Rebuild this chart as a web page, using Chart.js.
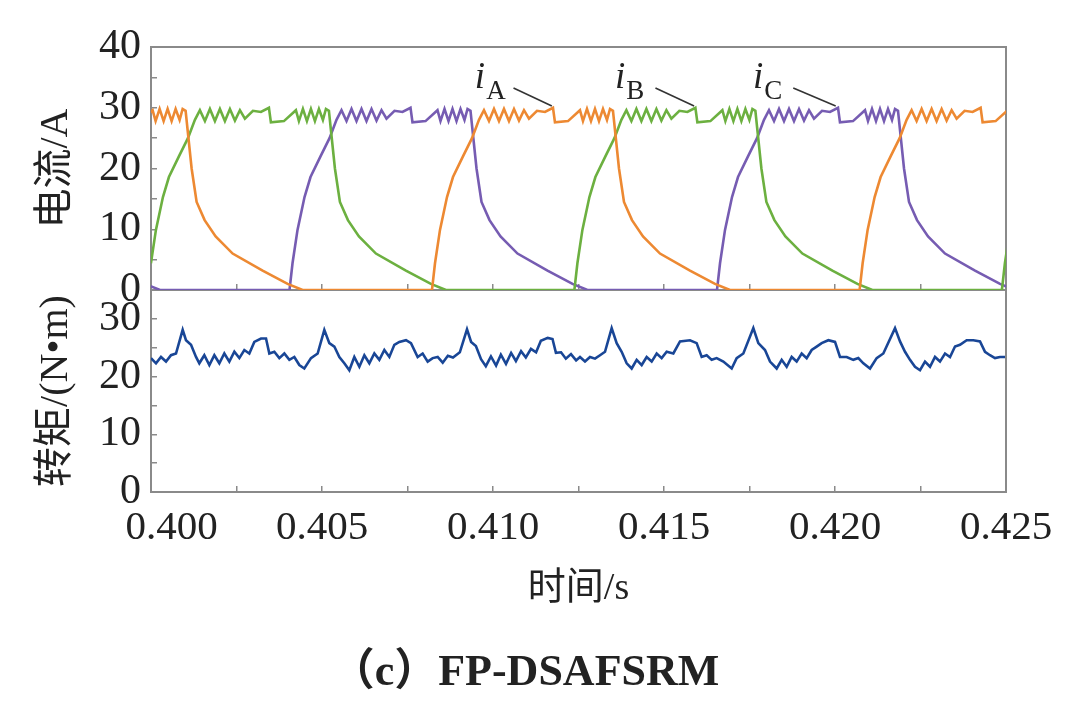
<!DOCTYPE html>
<html><head><meta charset="utf-8">
<script src="https://cdn.jsdelivr.net/npm/chart.js@4.4.1/dist/chart.umd.min.js"></script>
<style>
html,body{margin:0;padding:0;background:#fff;width:1075px;height:702px;overflow:hidden;}
#c1,#c2{position:absolute;left:0;top:0;}
#c1{z-index:2}
#c2{z-index:1}
#cap{position:absolute;left:0;width:1050px;top:634px;text-align:center;font:bold 44px "Liberation Serif","Noto Sans CJK SC";color:#222;z-index:3;white-space:nowrap}
</style></head><body>
<canvas id="c1" width="1075" height="360"></canvas>
<canvas id="c2" width="1075" height="702"></canvas>
<div id="cap">（c）FP-DSAFSRM</div>
<script>
// time values: milliseconds after 0.400 s
const xTickLabels = ['0.400','0.405','0.410','0.415','0.420','0.425'];
const currentTickLabels = [0,10,20,30,40];
const torqueTickLabels = [0,10,20,30];

// phase A current (orange)
const tA = [-0.303,0.047,0.135,0.252,0.369,0.486,0.603,0.720,0.837,0.925,1.012,1.188,1.334,1.568,1.890,2.387,3.264,3.995,4.433,
 8.216,8.304,8.450,8.655,8.830,9.122,9.386,9.590,9.736,9.883,10.029,10.175,10.321,10.467,10.614,10.760,10.906,11.052,11.286,11.520,11.754,11.812,12.193,12.543,12.631,12.748,12.865,12.982,13.099,13.216,13.333,13.421,13.508,13.684,13.830,14.064,14.386,14.883,15.760,16.491,16.929,
 20.720,20.808,20.954,21.159,21.334,21.626,21.890,22.094,22.240,22.387,22.533,22.679,22.825,22.971,23.118,23.264,23.410,23.556,23.790,24.024,24.258,24.316,24.697,25.047];
const iA = [27.8,29.6,27.8,29.8,27.8,29.8,27.8,29.8,28,29.8,29.5,20,14.5,11.5,8.8,6,3.2,1,0,
 0,4.4,9.9,15.3,18.6,22,25,28,29.6,27.8,29.8,27.8,29.8,27.8,29.8,27.9,29.6,28.2,29.5,29.3,30.0,27.6,27.8,29.6,27.8,29.8,27.8,29.8,27.8,29.8,28,29.8,29.5,20,14.5,11.5,8.8,6,3.2,1,0,
 0,4.4,9.9,15.3,18.6,22,25,28,29.6,27.8,29.8,27.8,29.8,27.8,29.8,27.9,29.6,28.2,29.5,29.3,30.0,27.6,27.8,29.6];

// phase B current (green)
const tB = [-0.090,-0.002,0.144,0.349,0.524,0.816,1.080,1.284,1.430,1.577,1.723,1.869,2.015,2.161,2.308,2.454,2.600,2.746,2.980,3.214,3.448,3.506,3.887,4.237,4.325,4.442,4.559,4.676,4.793,4.910,5.027,5.115,5.202,5.378,5.524,5.758,6.080,6.577,7.454,8.185,8.623,
 12.380,12.468,12.614,12.819,12.994,13.286,13.550,13.754,13.900,14.047,14.193,14.339,14.485,14.631,14.778,14.924,15.070,15.216,15.450,15.684,15.918,15.976,16.357,16.707,16.795,16.912,17.029,17.146,17.263,17.380,17.497,17.585,17.672,17.848,17.994,18.228,18.550,19.047,19.924,20.655,21.093,
 24.880,24.968,25.114];
const iB = [0,4.4,9.9,15.3,18.6,22,25,28,29.6,27.8,29.8,27.8,29.8,27.8,29.8,27.9,29.6,28.2,29.5,29.3,30.0,27.6,27.8,29.6,27.8,29.8,27.8,29.8,27.8,29.8,28,29.8,29.5,20,14.5,11.5,8.8,6,3.2,1,0,
 0,4.4,9.9,15.3,18.6,22,25,28,29.6,27.8,29.8,27.8,29.8,27.8,29.8,27.9,29.6,28.2,29.5,29.3,30.0,27.6,27.8,29.6,27.8,29.8,27.8,29.8,27.8,29.8,28,29.8,29.5,20,14.5,11.5,8.8,6,3.2,1,0,
 0,4.4,9.9];

// phase C current (purple)
const tC = [-1.783,-0.906,-0.175,0.263,
 4.050,4.138,4.284,4.489,4.664,4.956,5.220,5.424,5.570,5.717,5.863,6.009,6.155,6.301,6.448,6.594,6.740,6.886,7.120,7.354,7.588,7.646,8.027,8.377,8.465,8.582,8.699,8.816,8.933,9.050,9.167,9.255,9.342,9.518,9.664,9.898,10.220,10.717,11.594,12.325,12.763,
 16.550,16.638,16.784,16.989,17.164,17.456,17.720,17.924,18.070,18.217,18.363,18.509,18.655,18.801,18.948,19.094,19.240,19.386,19.620,19.854,20.088,20.146,20.527,20.877,20.965,21.082,21.199,21.316,21.433,21.550,21.667,21.755,21.842,22.018,22.164,22.398,22.720,23.217,24.094,24.825,25.263];
const iC = [6,3.2,1,0,
 0,4.4,9.9,15.3,18.6,22,25,28,29.6,27.8,29.8,27.8,29.8,27.8,29.8,27.9,29.6,28.2,29.5,29.3,30.0,27.6,27.8,29.6,27.8,29.8,27.8,29.8,27.8,29.8,28,29.8,29.5,20,14.5,11.5,8.8,6,3.2,1,0,
 0,4.4,9.9,15.3,18.6,22,25,28,29.6,27.8,29.8,27.8,29.8,27.8,29.8,27.9,29.6,28.2,29.5,29.3,30.0,27.6,27.8,29.6,27.8,29.8,27.8,29.8,27.8,29.8,28,29.8,29.5,20,14.5,11.5,8.8,6,3.2,1,0];

// torque
const tT = [0,0.146,0.292,0.439,0.585,0.731,0.926,1.023,1.170,1.316,1.413,1.559,1.706,1.852,1.998,2.144,2.290,2.437,2.583,2.729,2.875,3.021,3.216,3.363,3.460,3.606,3.752,3.899,4.045,4.191,4.337,4.483,4.678,4.873,
 5.068,5.214,5.361,5.507,5.653,5.799,5.945,6.092,6.238,6.384,6.530,6.676,6.823,6.969,7.115,7.261,7.456,7.602,7.797,7.943,8.090,8.236,8.382,
 8.530,8.680,8.830,9.030,9.240,9.360,9.500,9.650,9.790,9.940,10.090,10.230,10.380,10.530,10.670,10.820,10.960,11.110,11.260,11.400,11.600,11.740,11.840,11.990,12.130,12.280,12.430,
 12.544,12.690,12.836,12.983,13.129,13.275,13.470,13.616,13.762,13.909,14.055,14.201,14.347,14.493,14.640,14.786,14.932,15.078,15.273,15.468,15.760,15.955,16.102,16.248,16.394,16.540,16.735,16.979,17.125,17.320,
 17.612,17.758,17.953,18.100,18.295,18.441,18.587,18.733,18.879,19.026,19.172,19.318,19.464,19.610,19.805,20.000,20.146,20.341,20.536,20.682,20.829,21.024,21.218,21.413,
 21.755,21.901,22.047,22.193,22.339,22.486,22.632,22.778,22.924,23.070,23.217,23.363,23.509,23.655,23.850,24.045,24.240,24.386,24.532,24.678,24.825,24.971];
const torque = [23.2,22.3,23.4,22.6,23.7,24.0,28.1,26.3,25.5,23.4,22.3,23.7,22.0,23.7,22.3,24.0,22.6,24.3,23.2,24.6,24.0,26.0,26.6,26.6,24.0,24.3,23.2,24.0,22.9,23.4,22.0,21.4,23.2,24.0,
 28.1,25.8,25.2,23.4,22.3,21.1,23.4,21.7,23.7,22.3,24.0,22.9,24.6,23.4,25.5,26.0,26.3,25.8,23.4,24.0,22.6,23.2,23.4,
 22.4,23.6,23.3,24.2,28.2,26.0,25.3,23.0,21.8,23.5,21.9,23.8,22.2,24.1,22.7,24.4,23.3,24.8,24.2,26.2,26.7,26.5,24.1,24.2,23.1,23.9,22.8,
 23.4,22.6,23.4,23.1,23.7,24.3,28.4,25.8,24.3,22.3,21.4,22.9,22.0,23.4,22.6,24.0,23.2,24.3,24.0,26.1,26.3,25.8,23.4,23.7,22.9,23.2,22.6,21.4,23.2,24.0,
 28.4,25.8,24.6,22.6,21.4,22.9,21.7,23.4,22.6,24.0,23.2,24.6,25.2,25.8,26.3,26.0,23.4,23.4,22.9,23.2,22.3,21.4,23.2,24.0,
 28.4,26.1,24.3,22.9,21.7,21.1,22.6,21.7,23.4,22.6,24.0,23.4,25.2,25.5,26.3,26.3,26.1,24.3,23.7,23.2,23.4,23.4];

// phase label annotations (data coordinates)
const phaseNames = ['A','B','C'];
const labelTime = [9.47, 13.57, 17.60];
const labelCurrent = [33.25, 33.25, 33.25];
const leaderStartTime = [10.60, 14.75, 18.78];
const leaderStartCurrent = [33.25, 33.25, 33.25];
const leaderEndTime = [11.72, 15.88, 20.02];
const leaderEndCurrent = [30.3, 30.3, 30.3];

const zip = (t, v) => t.map((x, i) => ({x, y: v[i]}));
const GRAY = '#8a8a8a';
const TXT = '#222';
const serif = '"Liberation Serif","Noto Sans CJK SC"';

const frame = {
  id: 'frame',
  beforeDatasetsDraw(chart) {
    const {ctx, chartArea: a} = chart;
    ctx.save();
    ctx.strokeStyle = GRAY; ctx.lineWidth = 2;
    ctx.strokeRect(a.left, a.top, a.right - a.left, a.bottom - a.top);
    ctx.restore();
  }
};

const phaseLabels = {
  id: 'phaseLabels',
  afterDatasetsDraw(chart) {
    const {ctx, scales: {x, y}} = chart;
    ctx.save();
    phaseNames.forEach((n, i) => {
      const px = x.getPixelForValue(labelTime[i]);
      const py = y.getPixelForValue(labelCurrent[i]);
      ctx.fillStyle = TXT; ctx.textBaseline = 'alphabetic'; ctx.textAlign = 'left';
      ctx.font = 'italic 37px "Liberation Serif"';
      ctx.fillText('i', px, py);
      const w = ctx.measureText('i').width;
      ctx.font = '27px "Liberation Serif"';
      ctx.fillText(n, px + w + 1, py + 11);
      ctx.strokeStyle = '#333'; ctx.lineWidth = 1.6;
      ctx.beginPath();
      ctx.moveTo(x.getPixelForValue(leaderStartTime[i]), y.getPixelForValue(leaderStartCurrent[i]));
      ctx.lineTo(x.getPixelForValue(leaderEndTime[i]), y.getPixelForValue(leaderEndCurrent[i]));
      ctx.stroke();
    });
    ctx.restore();
  }
};

const lineDs = (label, data, color) => ({label, data, borderColor: color, backgroundColor: color,
  borderWidth: 2.6, pointRadius: 0, tension: 0, fill: false});

const common = {
  responsive: false, animation: false, events: [],
  plugins: {legend: {display: false}, tooltip: {enabled: false}, title: {display: false}}
};

const isMajor = v => Math.abs(v / 5 - Math.round(v / 5)) < 1e-6;

new Chart(document.getElementById('c1'), {
  type: 'line',
  data: {datasets: [
    lineDs('iA', zip(tA, iA), '#ED8932'),
    lineDs('iB', zip(tB, iB), '#6CB040'),
    lineDs('iC', zip(tC, iC), '#765CB2')
  ]},
  options: Object.assign({}, common, {
    layout: {padding: {top: 47, right: 69, bottom: 60, left: 0}},
    scales: {
      x: {type: 'linear', min: 0, max: 25, position: 'bottom',
        afterFit(s) { s.height = 10; },
        ticks: {display: false, stepSize: 2.5, autoSkip: false},
        grid: {drawOnChartArea: false, drawTicks: true, tickLength: -6, color: GRAY, lineWidth: 1.5},
        border: {display: false}},
      y: {type: 'linear', min: 0, max: 40,
        afterFit(s) { s.width = 151; },
        ticks: {stepSize: 5, autoSkip: false, padding: 16, color: TXT,
          font: {family: serif, size: 42},
          callback: v => currentTickLabels.includes(v) ? String(v) : ''},
        grid: {drawOnChartArea: false, tickLength: -6, color: GRAY, lineWidth: 1.5},
        border: {display: false},
        title: {display: true, text: '电流/A', color: TXT, font: {family: serif, size: 40}, padding: {top: 32, bottom: 0}}}
    }
  }),
  plugins: [frame, phaseLabels]
});

new Chart(document.getElementById('c2'), {
  type: 'line',
  data: {datasets: [lineDs('T', zip(tT, torque), '#194696')]},
  options: Object.assign({}, common, {
    layout: {padding: {top: 290, right: 69, bottom: 82, left: 0}},
    scales: {
      x: {type: 'linear', min: 0, max: 25, position: 'bottom',
        afterFit(s) { s.height = 128; },
        ticks: {stepSize: 2.5, autoSkip: false, maxRotation: 0, padding: 18, color: TXT,
          font: {family: serif, size: 41},
          callback: v => {
            if (!isMajor(v)) return '';
            const k = Math.round(v / 5);
            let s = xTickLabels[k];
            if (k === 0) s = '\u2007\u2007' + s;
            return s;
          }},
        grid: {drawOnChartArea: false, tickLength: -6, color: GRAY, lineWidth: 1.5},
        border: {display: false},
        title: {display: true, text: '时间/s', color: TXT, font: {family: serif, size: 38}, padding: {top: 0, bottom: 8}}},
      y: {type: 'linear', min: 0, max: 35,
        afterFit(s) { s.width = 151; },
        ticks: {stepSize: 5, autoSkip: false, padding: 16, color: TXT,
          font: {family: serif, size: 42},
          callback: v => torqueTickLabels.includes(v) ? String(v) : ''},
        grid: {drawOnChartArea: false, tickLength: -6, color: GRAY, lineWidth: 1.5},
        border: {display: false},
        title: {display: true, text: '转矩/(N•m)', color: TXT, font: {family: serif, size: 40}, padding: {top: 32, bottom: 0}}}
    }
  }),
  plugins: [frame]
});
</script>
</body></html>
